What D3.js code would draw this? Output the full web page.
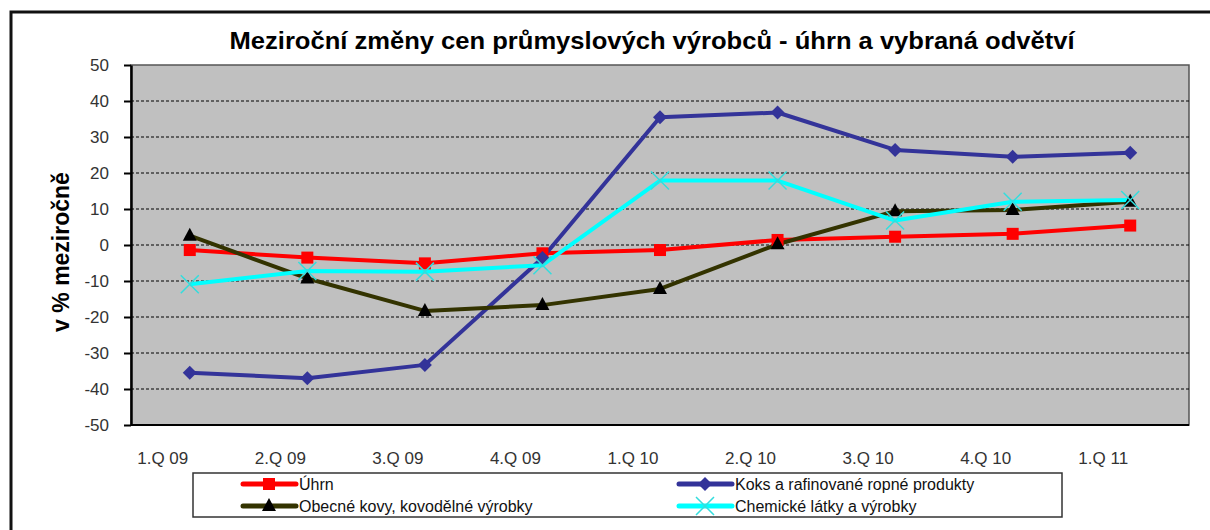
<!DOCTYPE html>
<html>
<head>
<meta charset="utf-8">
<script src="https://cdn.jsdelivr.net/npm/d3@7"></script>
<style>
  body { margin: 0; background: #fff; }
  svg { font-family: "Liberation Sans", Arial, sans-serif; }
</style>
</head>
<body>
<div id="chart"></div>
<script>
const quarters = ['1.Q 09', '2.Q 09', '3.Q 09', '4.Q 09', '1.Q 10', '2.Q 10', '3.Q 10', '4.Q 10', '1.Q 11'];
const uhrn = [-1.4, -3.5, -5.1, -2.3, -1.4, 1.4, 2.3, 3.1, 5.4];
const koks = [-35.5, -37.0, -33.3, -3.6, 35.5, 36.8, 26.4, 24.5, 25.6];
const kovy = [2.6, -9.3, -18.3, -16.7, -12.2, 0.2, 9.4, 9.7, 12.0];
const chem = [-10.9, -7.2, -7.4, -5.6, 17.9, 17.9, 6.8, 12.0, 12.5];
const yTicks = [-50, -40, -30, -20, -10, 0, 10, 20, 30, 40, 50];

const series = [
  { name: 'Úhrn', values: uhrn, color: '#ff0000', marker: 'square' },
  { name: 'Koks a rafinované  ropné  produkty', values: koks, color: '#333399', marker: 'diamond' },
  { name: 'Obecné kovy, kovodělné  výrobky', values: kovy, color: '#333300', marker: 'triangle' },
  { name: 'Chemické látky a výrobky', values: chem, color: '#00ffff', marker: 'cross' }
];

const width = 1210, height = 530;
const plot = { left: 131, right: 1189, top: 65, bottom: 425 };

const svg = d3.select('#chart').append('svg')
  .attr('width', width)
  .attr('height', height);

// outer frame (open on the right)
svg.append('path')
  .attr('d', `M11,${height} L11,12 L${width},12`)
  .attr('fill', 'none')
  .attr('stroke', '#111')
  .attr('stroke-width', 3);

const x = d3.scaleBand()
  .domain(quarters)
  .range([plot.left, plot.right]);

const y = d3.scaleLinear()
  .domain([-50, 50])
  .range([plot.bottom, plot.top]);

const cx = d => x(d) + x.bandwidth() / 2;

// plot background
svg.append('rect')
  .attr('x', plot.left)
  .attr('y', plot.top)
  .attr('width', plot.right - plot.left)
  .attr('height', plot.bottom - plot.top)
  .attr('fill', '#c0c0c0')
  .attr('stroke', '#555')
  .attr('stroke-width', 1.5);

// gridlines
svg.append('g')
  .selectAll('line')
  .data(yTicks.filter(t => t > -50 && t < 50))
  .join('line')
  .attr('x1', plot.left)
  .attr('x2', plot.right)
  .attr('y1', d => y(d))
  .attr('y2', d => y(d))
  .attr('stroke', '#000')
  .attr('stroke-width', 1)
  .attr('stroke-dasharray', '3,2');

// y axis
const yAxis = svg.append('g')
  .attr('transform', `translate(${plot.left},0)`)
  .call(d3.axisLeft(y).tickValues(yTicks).tickFormat(d => String(d))
    .tickSize(7).tickSizeOuter(0).tickPadding(15));
yAxis.select('.domain').attr('stroke', '#000').attr('stroke-width', 2.5);
yAxis.selectAll('.tick line').attr('stroke', '#000').attr('stroke-width', 2);
yAxis.selectAll('.tick text')
  .style('font-size', '17px')
  .style('font-family', '"Liberation Sans", Arial, sans-serif')
  .attr('fill', '#333');

// bottom axis line
svg.append('line')
  .attr('x1', plot.left)
  .attr('x2', plot.right)
  .attr('y1', plot.bottom)
  .attr('y2', plot.bottom)
  .attr('stroke', '#000')
  .attr('stroke-width', 2);

// x labels
svg.append('g')
  .selectAll('text')
  .data(quarters)
  .join('text')
  .attr('x', d => cx(d) - 27)
  .attr('y', 464)
  .attr('text-anchor', 'middle')
  .style('font-size', '17px')
  .attr('fill', '#333')
  .text(d => d);

// lines
const line = d3.line()
  .x((d, i) => cx(quarters[i]))
  .y(d => y(d));

svg.append('g')
  .selectAll('path')
  .data(series)
  .join('path')
  .attr('d', d => line(d.values))
  .attr('fill', 'none')
  .attr('stroke', d => d.color)
  .attr('stroke-width', 4)
  .attr('stroke-linejoin', 'round');

function drawMarker(g, type, px, py) {
  if (type === 'square') {
    g.append('rect')
      .attr('x', px - 6).attr('y', py - 6)
      .attr('width', 12).attr('height', 12)
      .attr('fill', '#ff0000');
  } else if (type === 'diamond') {
    g.append('path')
      .attr('d', `M${px},${py - 7} L${px + 7},${py} L${px},${py + 7} L${px - 7},${py} Z`)
      .attr('fill', '#333399');
  } else if (type === 'triangle') {
    g.append('path')
      .attr('d', `M${px},${py - 8} L${px + 7},${py + 5} L${px - 7},${py + 5} Z`)
      .attr('fill', '#000');
  } else if (type === 'cross') {
    g.append('path')
      .attr('d', `M${px - 9},${py - 9} L${px + 9},${py + 9} M${px + 9},${py - 9} L${px - 9},${py + 9}`)
      .attr('stroke', '#33dddd')
      .attr('stroke-width', 1.5);
  }
}

const markers = svg.append('g');
series.forEach(s => {
  s.values.forEach((v, i) => drawMarker(markers, s.marker, cx(quarters[i]), y(v)));
});

// title
svg.append('text')
  .attr('x', 652)
  .attr('y', 49)
  .attr('text-anchor', 'middle')
  .attr('textLength', 845)
  .attr('lengthAdjust', 'spacingAndGlyphs')
  .style('font-size', '23px')
  .style('font-weight', 'bold')
  .text('Meziroční změny cen průmyslových výrobců - úhrn a vybraná odvětví');

// y title
svg.append('text')
  .attr('transform', `translate(69,${(plot.top + plot.bottom) / 2 + 7}) rotate(-90)`)
  .attr('text-anchor', 'middle')
  .style('font-size', '23px')
  .style('font-weight', 'bold')
  .text('v % meziročně');

// legend
const legend = svg.append('g');
legend.append('rect')
  .attr('x', 193).attr('y', 473)
  .attr('width', 869).attr('height', 44)
  .attr('fill', '#fff')
  .attr('stroke', '#333')
  .attr('stroke-width', 1.5);

const legendPos = [
  { x: 243, y: 484 },
  { x: 679, y: 484 },
  { x: 243, y: 506 },
  { x: 679, y: 506 }
];

series.forEach((s, i) => {
  const p = legendPos[i];
  legend.append('line')
    .attr('x1', p.x).attr('x2', p.x + 53)
    .attr('y1', p.y).attr('y2', p.y)
    .attr('stroke', s.color)
    .attr('stroke-width', 5)
    .attr('stroke-linecap', 'round');
  drawMarker(legend, s.marker, p.x + 26, p.y);
  legend.append('text')
    .attr('x', p.x + 56)
    .attr('y', p.y + 6)
    .style('font-size', '16px')
    .attr('fill', '#111')
    .text(s.name);
});
</script>
</body>
</html>
